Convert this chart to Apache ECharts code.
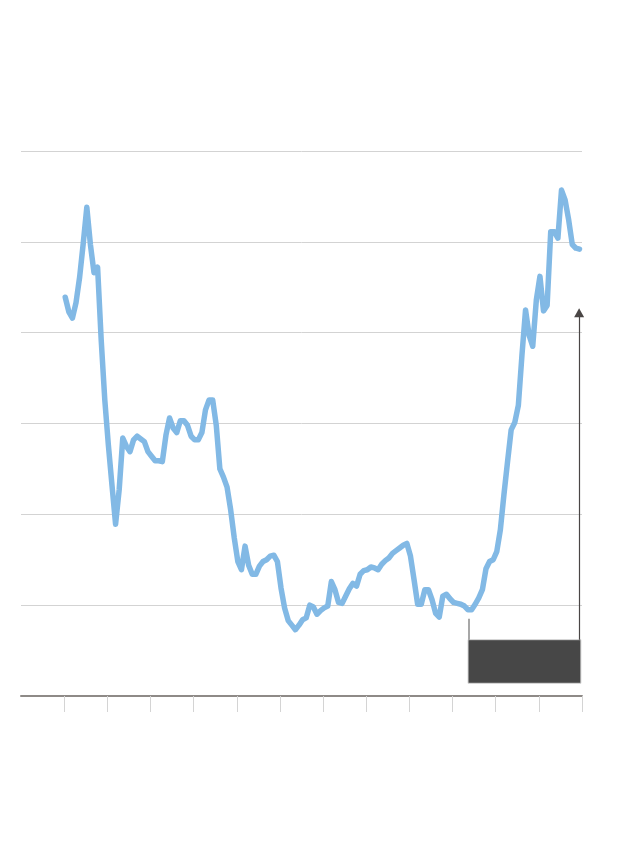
<!DOCTYPE html>
<html>
<head>
<meta charset="utf-8">
<script src="https://cdn.jsdelivr.net/npm/echarts@6/dist/echarts.min.js"></script>
<style>html,body{margin:0;padding:0;background:#fff}#c{width:640px;height:842px}</style>
</head>
<body>
<div id="c"></div>
<script>
// Monthly index of first point (axis runs 0..156 months, 13 periods of 12)
const startMonth = 12.3;
const values = [
43.9,42.3,41.6,43.3,46.1,49.8,53.8,49.7,46.6,47.2,39.2,32.6,
27.6,23.2,18.9,22.7,28.4,27.5,26.9,28.2,28.6,28.3,28.0,26.9,
26.4,25.9,25.9,25.8,28.7,30.6,29.5,29.0,30.3,30.3,29.8,28.6,
28.2,28.2,29.0,31.5,32.6,32.6,29.8,25.0,24.1,23.0,20.5,17.4,
14.8,13.9,16.5,14.4,13.4,13.4,14.3,14.8,15.0,15.4,15.5,14.8,
11.9,9.7,8.3,7.8,7.3,7.8,8.4,8.6,10.0,9.8,9.0,9.4,
9.7,9.9,12.6,11.7,10.3,10.2,11.0,11.8,12.4,12.1,13.4,13.8,
13.9,14.2,14.1,13.9,14.5,14.9,15.2,15.7,16.0,16.3,16.6,16.8,
15.4,12.8,10.1,10.1,11.7,11.7,10.6,9.1,8.7,11.0,11.2,10.7,
10.3,10.2,10.1,9.9,9.5,9.5,10.1,10.8,11.7,14.0,14.8,15.0,
15.9,18.3,22.2,25.8,29.3,30.1,32.0,37.5,42.5,39.7,38.5,43.6,
46.2,42.4,43.0,51.1,51.1,50.4,55.7,54.6,52.4,49.7,49.3,49.2
];
const tickMonths = [12,24,36,48,60,72,84,96,108,120,132,144,156];
// Annotation box / arrow / leader (data units)
const boxX = [124.3, 155.7];
const boxY = [1.4, 6.2];
const arrowX = 155.2;
const arrowY = [6.2, 42.2];
const leaderX = 124.6;
const leaderY = [6.2, 8.5];

const seriesData = values.map((v, i) => [startMonth + i, v]);

const chart = echarts.init(document.getElementById('c'), null, {renderer: 'canvas'});
chart.setOption({
  animation: false,
  backgroundColor: '#ffffff',
  grid: {left: 21, right: 58, top: 151, bottom: 146},
  xAxis: {
    type: 'value', min: 0, max: 156,
    axisLine: {show: true, lineStyle: {color: '#8e8a87', width: 2}},
    axisTick: {show: true, customValues: tickMonths, length: 16, inside: false,
      lineStyle: {color: '#d4d4d4', width: 1}},
    axisLabel: {show: false},
    splitLine: {show: false}
  },
  yAxis: {
    type: 'value', min: 0, max: 60, interval: 10,
    axisLine: {show: false}, axisTick: {show: false}, axisLabel: {show: false},
    splitLine: {show: true, lineStyle: {color: '#d3d3d3', width: 1}}
  },
  series: [
    {
      type: 'line',
      data: seriesData,
      showSymbol: false,
      lineStyle: {color: '#82b9e5', width: 5.5, cap: 'round', join: 'round'},
      z: 3
    },
    {
      type: 'line',
      data: [],
      markArea: {
        silent: true,
        itemStyle: {color: '#474747', borderColor: '#d6d6d6', borderWidth: 1},
        data: [[{coord: [boxX[0], boxY[1]]}, {coord: [boxX[1], boxY[0]]}]]
      },
      markLine: {
        silent: true,
        animation: false,
        label: {show: false},
        data: [
          [{coord: [arrowX, arrowY[0]], symbol: 'none', lineStyle: {color: '#4a4645', width: 1.2, type: 'solid'}},
           {coord: [arrowX, arrowY[1]], symbol: 'triangle', symbolSize: [10, 9], symbolRotate: 0}],
          [{coord: [leaderX, leaderY[0]], symbol: 'none', lineStyle: {color: '#8a8a8a', width: 1.5, type: 'solid'}},
           {coord: [leaderX, leaderY[1]], symbol: 'none'}]
        ],
        itemStyle: {color: '#231f20'}
      },
      z: 4
    }
  ]
});
</script>
</body>
</html>
